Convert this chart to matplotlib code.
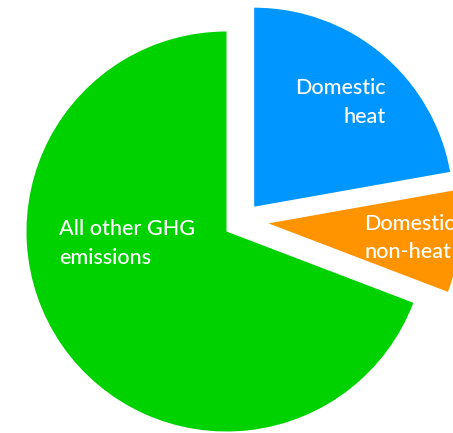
import matplotlib
matplotlib.use("Agg")
import matplotlib.pyplot as plt

# Share of greenhouse-gas emissions (%)
categories = ["Domestic heat", "Domestic non-heat", "All other GHG emissions"]
shares = [22.2, 8.6, 69.2]
labels = ["Domestic\nheat", "Domestic\nnon-heat", "All other GHG\nemissions"]
colors = ["#0096FF", "#FF9300", "#00D200"]

W, H = 453, 433
fig = plt.figure(figsize=(W / 100, H / 100), dpi=100)
ax = fig.add_axes([0, 0, 1, 1])

center = (226.5, H - 231.5)
radius = 200
wedges, _ = ax.pie(shares, colors=colors, startangle=90, counterclock=False,
                   radius=radius, center=center,
                   wedgeprops=dict(linewidth=0, antialiased=True))

# pull the two domestic slices out of the pie
shifts = [(27.7, 24.8), (42.0, 8.1), (0.0, 0.0)]
radii = [199, 192, 200]
for w, (dx, dy), r in zip(wedges, shifts, radii):
    w.set_center((center[0] + dx, center[1] + dy))
    w.set_radius(r)

ax.set_xlim(0, W)
ax.set_ylim(0, H)
ax.set_aspect("equal")
ax.axis("off")

font = dict(family=["Lato", "DejaVu Sans"], color="white", fontsize=15.6,
            fontweight="medium")
# (x, first baseline y in px from top, alignment, line step)
label_layout = [(386, 94, "right", 28.7), (364, 230, "left", 28.5),
                (59, 235, "left", 29.0)]
for text, (x, y0, ha, step) in zip(labels, label_layout):
    for i, line in enumerate(text.split("\n")):
        ax.text(x, H - (y0 + i * step), line, ha=ha, va="baseline", **font)

fig.savefig("out.png", dpi=100)
